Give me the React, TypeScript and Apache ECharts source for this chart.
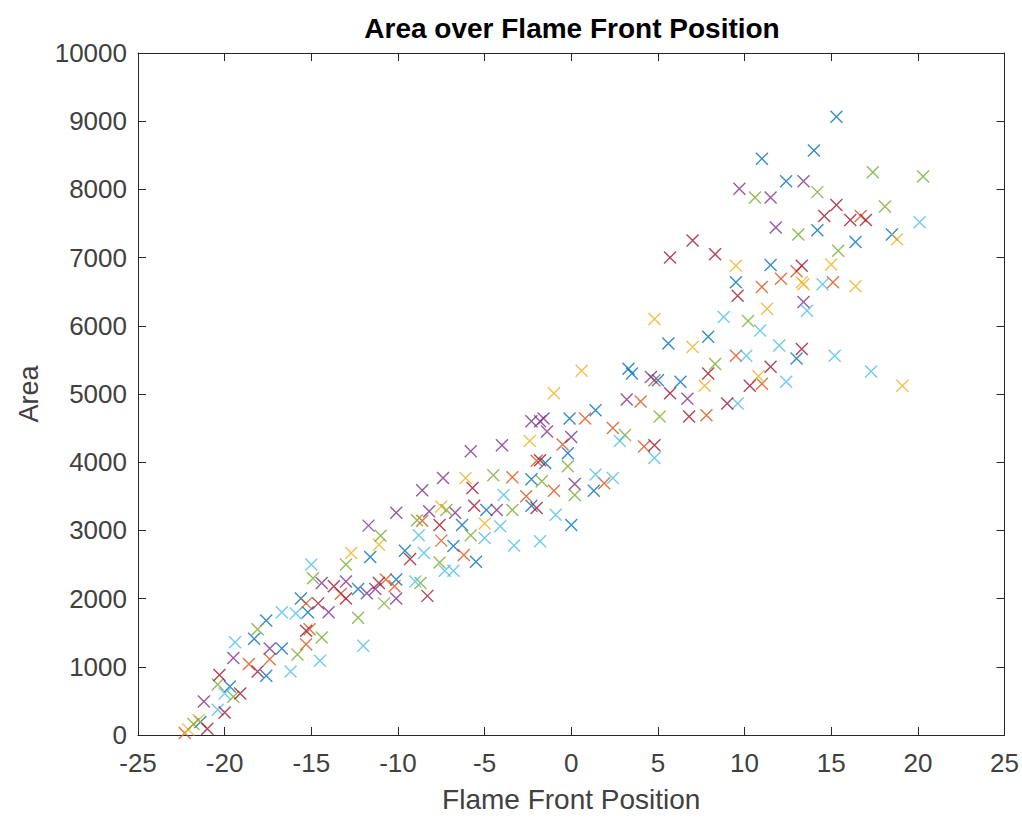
import React, { useEffect, useRef } from "react";
import * as echarts from "echarts";

const titleText = "Area over Flame Front Position";
const xName = "Flame Front Position";
const yName = "Area";
const xTicks = [-25, -20, -15, -10, -5, 0, 5, 10, 15, 20, 25];
const yTicks = [0, 1000, 2000, 3000, 4000, 5000, 6000, 7000, 8000, 9000, 10000];

const blue = [[15.3,9066],[14.0,8570],[12.4,8120],[11.0,8450],[14.2,7400],[18.5,7340],[16.4,7230],[9.5,6640],[11.5,6890],[7.9,5840],[5.6,5740],[13.0,5520],[6.3,5180],[5.0,5200],[3.3,5370],[3.5,5300],[1.4,4760],[-0.1,4640],[-0.2,4130],[-1.5,3990],[1.3,3580],[-2.3,3750],[-2.3,3360],[-4.9,3300],[-6.3,3080],[0.0,3080],[-6.8,2770],[-5.5,2540],[-11.6,2610],[-9.6,2700],[-10.1,2280],[-12.3,2140],[-15.2,1800],[-15.6,2000],[-17.6,1680],[-18.3,1410],[-16.7,1270],[-17.6,870],[-19.7,710],[-21.4,190]];
const orange = [[16.7,7610],[13.0,6800],[15.1,6640],[12.1,6690],[11.0,6570],[4.8,5200],[4.0,4890],[0.8,4640],[2.4,4500],[4.2,4230],[1.9,3690],[-2.0,4020],[-3.4,3780],[-2.6,3500],[-8.6,3140],[-7.5,2850],[-13.3,2070],[-10.7,2280],[-15.1,1550],[-15.3,1330],[-17.4,1110],[-18.6,1040],[-22.3,30],[-15.3,1930],[-10.2,2180],[9.5,5560],[11.0,5150],[7.8,4690],[-0.5,4260],[-1.0,3580],[-6.2,2640]];
const yellow = [[18.8,7270],[15.0,6900],[9.5,6880],[13.3,6640],[13.4,6610],[16.4,6580],[11.3,6250],[4.8,6100],[7.0,5690],[10.8,5260],[7.7,5120],[19.1,5120],[0.6,5340],[-1.0,5010],[-2.4,4310],[-6.1,3770],[-7.5,3350],[-5.0,3100],[-11.1,2790],[-12.7,2670],[-22.1,80],[-21.5,220]];
const purple = [[13.4,8120],[9.7,8010],[11.5,7880],[11.8,7440],[13.4,6350],[4.6,5250],[3.2,4920],[6.7,4930],[-1.6,4640],[-1.4,4450],[0.0,4370],[0.2,3680],[-2.3,4600],[-1.8,4600],[-4.0,4250],[-5.8,4160],[-7.4,3770],[-8.6,3590],[-8.2,3280],[-6.7,3260],[-4.3,3300],[-10.1,3260],[-11.7,3070],[-14.4,2230],[-13.0,2250],[-11.3,2140],[-11.8,2080],[-10.1,2000],[-14.0,1800],[-17.4,1270],[-19.5,1130],[-21.2,490]];
const green = [[17.4,8250],[20.3,8190],[14.2,7960],[18.1,7750],[13.1,7340],[15.4,7100],[10.6,7880],[10.2,6070],[8.3,5440],[5.1,4670],[3.1,4400],[-0.2,3940],[-1.7,3720],[0.2,3520],[-4.5,3810],[-3.4,3300],[-7.2,3300],[-5.8,2930],[-7.6,2530],[-8.9,3150],[-11.0,2920],[-13.0,2500],[-14.9,2300],[-10.8,1930],[-12.3,1720],[-14.4,1430],[-18.1,1550],[-15.8,1180],[-20.4,740],[-19.5,560],[-21.8,160],[-8.7,2230]];
const lightBlue = [[20.1,7520],[14.5,6610],[13.6,6220],[8.8,6130],[10.9,5930],[12.0,5710],[10.1,5560],[15.2,5560],[17.3,5330],[12.4,5180],[9.6,4860],[2.8,4310],[4.8,4060],[1.4,3820],[2.4,3770],[-3.9,3520],[-0.9,3230],[-4.1,3060],[-5.0,2890],[-3.3,2780],[-1.8,2840],[-8.5,2670],[-7.3,2410],[-6.8,2410],[-8.8,2930],[-15.0,2500],[-9.0,2250],[-12.0,1310],[-14.5,1090],[-15.9,1780],[-16.7,1800],[-19.4,1360],[-16.2,930],[-20.0,610],[-20.4,370]];
const darkRed = [[15.3,7770],[14.6,7610],[16.1,7550],[17.0,7550],[13.3,6880],[7.0,7250],[5.7,7000],[8.3,7050],[9.6,6440],[13.3,5660],[7.9,5300],[11.5,5400],[10.3,5120],[5.7,5010],[9.0,4860],[6.8,4670],[-5.7,3620],[-5.6,3360],[-2.0,3330],[-7.6,3080],[-9.3,2580],[-11.1,2230],[-8.3,2040],[-13.7,2180],[-13.0,2000],[-14.6,1930],[-15.3,1530],[-18.1,930],[-20.3,880],[-19.1,610],[-20.0,330],[-21.0,90],[-1.8,4030],[4.8,4250]];

const seriesList = [
  { name: "s1", color: "#0072BD", data: blue },
  { name: "s2", color: "#D95319", data: orange },
  { name: "s3", color: "#EDB120", data: yellow },
  { name: "s4", color: "#7E2F8E", data: purple },
  { name: "s5", color: "#77AC30", data: green },
  { name: "s6", color: "#4DBEEE", data: lightBlue },
  { name: "s7", color: "#A2142F", data: darkRed },
];

const FONT = "'Liberation Sans', Arial, sans-serif";
const AX = "#262626";

export default function App() {
  const ref = useRef<HTMLDivElement>(null);
  useEffect(() => {
    if (!ref.current) return;
    const chart = echarts.init(ref.current, null, { renderer: "svg" });
    const xMin = xTicks[0], xMax = xTicks[xTicks.length - 1];
    const yMin = yTicks[0], yMax = yTicks[yTicks.length - 1];
    const xStep = xTicks[1] - xTicks[0];
    const yStep = yTicks[1] - yTicks[0];
    const axisCommon = {
      axisLine: { show: true, onZero: false, lineStyle: { color: AX, width: 1 } },
      axisTick: { show: true, inside: true, length: 8, lineStyle: { color: AX } },
      splitLine: { show: false },
    };
    chart.setOption({
      animation: false,
      backgroundColor: "#ffffff",
      graphic: [
        {
          type: "text",
          x: 572,
          y: 14,
          style: {
            text: titleText,
            font: `bold 28px ${FONT}`,
            fill: "#000000",
            textAlign: "center",
          },
        },
      ],
      grid: { left: 138, top: 53, width: 868, height: 685, containLabel: false },
      xAxis: [
        {
          type: "value", min: xMin, max: xMax, interval: xStep, position: "bottom",
          ...axisCommon,
          axisLabel: { color: "#404040", fontSize: 26, fontFamily: FONT, margin: 15 },
          name: xName, nameLocation: "middle", nameGap: 50,
          nameTextStyle: { color: "#404040", fontSize: 28, fontFamily: FONT },
        },
        {
          type: "value", min: xMin, max: xMax, interval: xStep, position: "top",
          ...axisCommon, axisLabel: { show: false },
        },
      ],
      yAxis: [
        {
          type: "value", min: yMin, max: yMax, interval: yStep, position: "left",
          ...axisCommon,
          axisLabel: {
            color: "#404040", fontSize: 26, fontFamily: FONT, margin: 11,
            formatter: (v: number) => String(v),
          },
          name: yName, nameLocation: "middle", nameGap: 96,
          nameTextStyle: { color: "#404040", fontSize: 27, fontFamily: FONT },
        },
        {
          type: "value", min: yMin, max: yMax, interval: yStep, position: "right",
          ...axisCommon, axisLabel: { show: false },
        },
      ],
      series: seriesList.map((s) => ({
        type: "scatter",
        name: s.name,
        xAxisIndex: 0,
        yAxisIndex: 0,
        data: s.data,
        symbol: "path://M0,0L10,10M10,0L0,10",
        symbolSize: 12,
        itemStyle: { color: "rgba(0,0,0,0)", borderColor: s.color, borderWidth: 1.4 },
      })),
    });
    return () => chart.dispose();
  }, []);
  return (
    <div
      ref={ref}
      style={{ position: "fixed", left: 0, top: 0, width: 1022, height: 818 }}
    />
  );
}
